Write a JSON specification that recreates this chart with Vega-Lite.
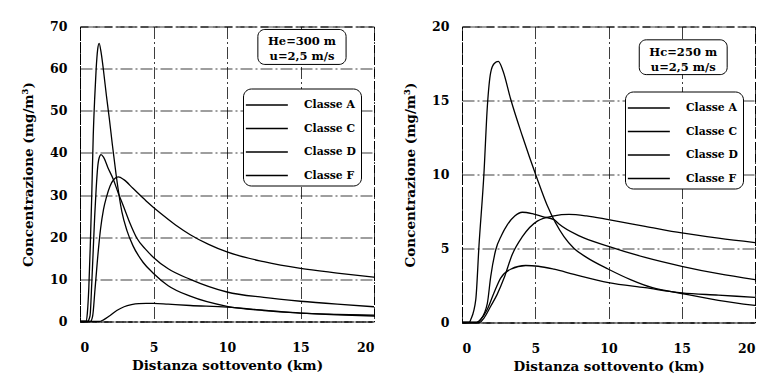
{
  "$schema": "https://vega.github.io/schema/vega-lite/v6.json",
  "background": "white",
  "padding": {"left": 21, "top": 19.5, "right": 5, "bottom": 5},
  "spacing": 25,
  "datasets": {
    "curves": [
      {"panel":"L","classe":"Classe A","x":0,"y":0},{"panel":"L","classe":"Classe A","x":0.4,"y":0},{"panel":"L","classe":"Classe A","x":0.5,"y":2},{"panel":"L","classe":"Classe A","x":0.6,"y":8},{"panel":"L","classe":"Classe A","x":0.7,"y":18},{"panel":"L","classe":"Classe A","x":0.8,"y":30},{"panel":"L","classe":"Classe A","x":0.9,"y":44},{"panel":"L","classe":"Classe A","x":1.0,"y":53},{"panel":"L","classe":"Classe A","x":1.1,"y":60},{"panel":"L","classe":"Classe A","x":1.2,"y":64.5},{"panel":"L","classe":"Classe A","x":1.3,"y":66},{"panel":"L","classe":"Classe A","x":1.45,"y":63.5},{"panel":"L","classe":"Classe A","x":1.6,"y":59.5},{"panel":"L","classe":"Classe A","x":1.8,"y":53.5},{"panel":"L","classe":"Classe A","x":2.0,"y":48},{"panel":"L","classe":"Classe A","x":2.2,"y":42},{"panel":"L","classe":"Classe A","x":2.45,"y":35},{"panel":"L","classe":"Classe A","x":2.85,"y":26},{"panel":"L","classe":"Classe A","x":3.2,"y":21.5},{"panel":"L","classe":"Classe A","x":3.6,"y":18},{"panel":"L","classe":"Classe A","x":4.3,"y":14},{"panel":"L","classe":"Classe A","x":5,"y":11.4},{"panel":"L","classe":"Classe A","x":6,"y":8.5},{"panel":"L","classe":"Classe A","x":7.5,"y":6},{"panel":"L","classe":"Classe A","x":10,"y":3.6},{"panel":"L","classe":"Classe A","x":12.5,"y":2.6},{"panel":"L","classe":"Classe A","x":15,"y":2.0},{"panel":"L","classe":"Classe A","x":17.5,"y":1.6},{"panel":"L","classe":"Classe A","x":20,"y":1.3},
      {"panel":"L","classe":"Classe C","x":0,"y":0},{"panel":"L","classe":"Classe C","x":0.5,"y":0},{"panel":"L","classe":"Classe C","x":0.68,"y":1.3},{"panel":"L","classe":"Classe C","x":0.8,"y":9},{"panel":"L","classe":"Classe C","x":0.9,"y":17},{"panel":"L","classe":"Classe C","x":1.0,"y":25},{"panel":"L","classe":"Classe C","x":1.1,"y":31.5},{"panel":"L","classe":"Classe C","x":1.2,"y":36.5},{"panel":"L","classe":"Classe C","x":1.3,"y":38.8},{"panel":"L","classe":"Classe C","x":1.43,"y":39.6},{"panel":"L","classe":"Classe C","x":1.6,"y":39},{"panel":"L","classe":"Classe C","x":1.9,"y":36.5},{"panel":"L","classe":"Classe C","x":2.27,"y":33.7},{"panel":"L","classe":"Classe C","x":2.6,"y":30.5},{"panel":"L","classe":"Classe C","x":2.95,"y":27.4},{"panel":"L","classe":"Classe C","x":3.4,"y":23.3},{"panel":"L","classe":"Classe C","x":3.86,"y":19.8},{"panel":"L","classe":"Classe C","x":4.5,"y":17},{"panel":"L","classe":"Classe C","x":5,"y":15.2},{"panel":"L","classe":"Classe C","x":6,"y":12.5},{"panel":"L","classe":"Classe C","x":7.5,"y":10},{"panel":"L","classe":"Classe C","x":10,"y":7},{"panel":"L","classe":"Classe C","x":12.5,"y":5.7},{"panel":"L","classe":"Classe C","x":15,"y":4.8},{"panel":"L","classe":"Classe C","x":17.5,"y":4.1},{"panel":"L","classe":"Classe C","x":20,"y":3.5},
      {"panel":"L","classe":"Classe D","x":0,"y":0},{"panel":"L","classe":"Classe D","x":0.7,"y":0},{"panel":"L","classe":"Classe D","x":0.86,"y":1.3},{"panel":"L","classe":"Classe D","x":1.02,"y":7.6},{"panel":"L","classe":"Classe D","x":1.25,"y":17},{"panel":"L","classe":"Classe D","x":1.4,"y":22},{"panel":"L","classe":"Classe D","x":1.6,"y":26.6},{"panel":"L","classe":"Classe D","x":1.8,"y":29.5},{"panel":"L","classe":"Classe D","x":2.04,"y":32.1},{"panel":"L","classe":"Classe D","x":2.3,"y":33.7},{"panel":"L","classe":"Classe D","x":2.6,"y":34.3},{"panel":"L","classe":"Classe D","x":3,"y":33.6},{"panel":"L","classe":"Classe D","x":3.6,"y":31.6},{"panel":"L","classe":"Classe D","x":4.5,"y":28.6},{"panel":"L","classe":"Classe D","x":5.5,"y":25.6},{"panel":"L","classe":"Classe D","x":6.5,"y":22.9},{"panel":"L","classe":"Classe D","x":7.5,"y":20.6},{"panel":"L","classe":"Classe D","x":8.75,"y":18.3},{"panel":"L","classe":"Classe D","x":10,"y":16.5},{"panel":"L","classe":"Classe D","x":12.5,"y":14.2},{"panel":"L","classe":"Classe D","x":15,"y":12.6},{"panel":"L","classe":"Classe D","x":17.5,"y":11.5},{"panel":"L","classe":"Classe D","x":20,"y":10.5},
      {"panel":"L","classe":"Classe F","x":0,"y":0},{"panel":"L","classe":"Classe F","x":1.3,"y":0},{"panel":"L","classe":"Classe F","x":1.6,"y":0.4},{"panel":"L","classe":"Classe F","x":2,"y":1.3},{"panel":"L","classe":"Classe F","x":2.5,"y":2.6},{"panel":"L","classe":"Classe F","x":3,"y":3.5},{"panel":"L","classe":"Classe F","x":3.5,"y":4.0},{"panel":"L","classe":"Classe F","x":4,"y":4.25},{"panel":"L","classe":"Classe F","x":4.5,"y":4.3},{"panel":"L","classe":"Classe F","x":5,"y":4.3},{"panel":"L","classe":"Classe F","x":6,"y":4.1},{"panel":"L","classe":"Classe F","x":7.5,"y":3.8},{"panel":"L","classe":"Classe F","x":10,"y":3.4},{"panel":"L","classe":"Classe F","x":12.5,"y":2.7},{"panel":"L","classe":"Classe F","x":15,"y":2.0},{"panel":"L","classe":"Classe F","x":17.5,"y":1.7},{"panel":"L","classe":"Classe F","x":20,"y":1.5},
      {"panel":"R","classe":"Classe A","x":0,"y":0},{"panel":"R","classe":"Classe A","x":0.5,"y":0},{"panel":"R","classe":"Classe A","x":0.6,"y":0.2},{"panel":"R","classe":"Classe A","x":0.94,"y":1.55},{"panel":"R","classe":"Classe A","x":1.16,"y":5.2},{"panel":"R","classe":"Classe A","x":1.5,"y":10.1},{"panel":"R","classe":"Classe A","x":1.73,"y":14.6},{"panel":"R","classe":"Classe A","x":1.96,"y":16.9},{"panel":"R","classe":"Classe A","x":2.2,"y":17.5},{"panel":"R","classe":"Classe A","x":2.48,"y":17.65},{"panel":"R","classe":"Classe A","x":2.8,"y":17},{"panel":"R","classe":"Classe A","x":3.32,"y":15.1},{"panel":"R","classe":"Classe A","x":4.12,"y":12.6},{"panel":"R","classe":"Classe A","x":5.1,"y":9.8},{"panel":"R","classe":"Classe A","x":5.82,"y":7.9},{"panel":"R","classe":"Classe A","x":6.96,"y":5.8},{"panel":"R","classe":"Classe A","x":7.65,"y":5.0},{"panel":"R","classe":"Classe A","x":8.5,"y":4.4},{"panel":"R","classe":"Classe A","x":10,"y":3.6},{"panel":"R","classe":"Classe A","x":11.5,"y":2.9},{"panel":"R","classe":"Classe A","x":13,"y":2.35},{"panel":"R","classe":"Classe A","x":15,"y":1.96},{"panel":"R","classe":"Classe A","x":17.5,"y":1.5},{"panel":"R","classe":"Classe A","x":20,"y":1.15},
      {"panel":"R","classe":"Classe C","x":0,"y":0},{"panel":"R","classe":"Classe C","x":1.0,"y":0},{"panel":"R","classe":"Classe C","x":1.27,"y":0.2},{"panel":"R","classe":"Classe C","x":1.73,"y":1.3},{"panel":"R","classe":"Classe C","x":1.96,"y":3.1},{"panel":"R","classe":"Classe C","x":2.3,"y":4.9},{"panel":"R","classe":"Classe C","x":2.7,"y":5.9},{"panel":"R","classe":"Classe C","x":3.09,"y":6.6},{"panel":"R","classe":"Classe C","x":3.6,"y":7.2},{"panel":"R","classe":"Classe C","x":4.12,"y":7.45},{"panel":"R","classe":"Classe C","x":4.8,"y":7.35},{"panel":"R","classe":"Classe C","x":5.5,"y":7.15},{"panel":"R","classe":"Classe C","x":6.28,"y":6.95},{"panel":"R","classe":"Classe C","x":6.62,"y":6.65},{"panel":"R","classe":"Classe C","x":8,"y":5.85},{"panel":"R","classe":"Classe C","x":10,"y":5.15},{"panel":"R","classe":"Classe C","x":12.5,"y":4.4},{"panel":"R","classe":"Classe C","x":15,"y":3.8},{"panel":"R","classe":"Classe C","x":17.5,"y":3.3},{"panel":"R","classe":"Classe C","x":20,"y":2.9},
      {"panel":"R","classe":"Classe D","x":0,"y":0},{"panel":"R","classe":"Classe D","x":1.2,"y":0},{"panel":"R","classe":"Classe D","x":1.5,"y":0.3},{"panel":"R","classe":"Classe D","x":1.96,"y":1.1},{"panel":"R","classe":"Classe D","x":2.4,"y":1.9},{"panel":"R","classe":"Classe D","x":2.87,"y":3.0},{"panel":"R","classe":"Classe D","x":3.43,"y":4.6},{"panel":"R","classe":"Classe D","x":4.12,"y":5.8},{"panel":"R","classe":"Classe D","x":5.14,"y":6.85},{"panel":"R","classe":"Classe D","x":6.28,"y":7.2},{"panel":"R","classe":"Classe D","x":7.3,"y":7.3},{"panel":"R","classe":"Classe D","x":8.5,"y":7.2},{"panel":"R","classe":"Classe D","x":10,"y":6.95},{"panel":"R","classe":"Classe D","x":12.5,"y":6.5},{"panel":"R","classe":"Classe D","x":15,"y":6.05},{"panel":"R","classe":"Classe D","x":17.5,"y":5.7},{"panel":"R","classe":"Classe D","x":20,"y":5.4},
      {"panel":"R","classe":"Classe F","x":0,"y":0},{"panel":"R","classe":"Classe F","x":1.0,"y":0},{"panel":"R","classe":"Classe F","x":1.27,"y":0.2},{"panel":"R","classe":"Classe F","x":1.73,"y":0.9},{"panel":"R","classe":"Classe F","x":2.18,"y":2.0},{"panel":"R","classe":"Classe F","x":2.64,"y":3.0},{"panel":"R","classe":"Classe F","x":3.32,"y":3.6},{"panel":"R","classe":"Classe F","x":4.35,"y":3.85},{"panel":"R","classe":"Classe F","x":5.2,"y":3.8},{"panel":"R","classe":"Classe F","x":6.28,"y":3.6},{"panel":"R","classe":"Classe F","x":7.65,"y":3.25},{"panel":"R","classe":"Classe F","x":10,"y":2.7},{"panel":"R","classe":"Classe F","x":12.5,"y":2.35},{"panel":"R","classe":"Classe F","x":15,"y":2.0},{"panel":"R","classe":"Classe F","x":17.5,"y":1.85},{"panel":"R","classe":"Classe F","x":20,"y":1.7}
    ]
  },
  "hconcat": [
    {
      "width": 294,
      "height": 295,
      "layer": [
        {
          "data": {"name": "curves"},
          "transform": [{"filter": "datum.panel === 'L'"}],
          "mark": {"type": "line", "interpolate": "monotone", "strokeWidth": 1.3},
          "encoding": {
            "x": {"field": "x", "type": "quantitative", "scale": {"domain": [0, 20], "nice": false}, "axis": {"values": [0, 5, 10, 15, 20], "title": "Distanza sottovento (km)"}},
            "y": {"field": "y", "type": "quantitative", "scale": {"domain": [0, 70], "nice": false}, "axis": {"values": [0, 10, 20, 30, 40, 50, 60, 70], "title": "Concentrazione (mg/m³)"}},
            "color": {"field": "classe", "type": "nominal", "scale": {"range": ["black", "black", "black", "black"]},
              "legend": {"orient": "none", "legendX": 163, "legendY": 62, "title": null}}
          }
        },
        {
          "data": {"values": [{}]},
          "mark": {"type": "rect", "fill": "white", "stroke": "black", "strokeWidth": 1, "cornerRadius": 7},
          "encoding": {
            "x": {"datum": 12.1}, "x2": {"datum": 18.1},
            "y": {"datum": 69.3}, "y2": {"datum": 61}
          }
        },
        {
          "data": {"values": [{}]},
          "mark": {"type": "text", "font": "DejaVu Serif", "fontWeight": "bold", "fontSize": 11.5, "align": "center", "baseline": "middle", "lineHeight": 15},
          "encoding": {
            "x": {"datum": 15.1}, "y": {"datum": 66.4},
            "text": {"value": ["He=300 m", "u=2,5 m/s"]}
          }
        }
      ]
    },
    {
      "width": 293,
      "height": 296,
      "layer": [
        {
          "data": {"name": "curves"},
          "transform": [{"filter": "datum.panel === 'R'"}],
          "mark": {"type": "line", "interpolate": "monotone", "strokeWidth": 1.3},
          "encoding": {
            "x": {"field": "x", "type": "quantitative", "scale": {"domain": [0, 20], "nice": false}, "axis": {"values": [0, 5, 10, 15, 20], "title": "Distanza sottovento (km)"}},
            "y": {"field": "y", "type": "quantitative", "scale": {"domain": [0, 20], "nice": false}, "axis": {"values": [0, 5, 10, 15, 20], "title": "Concentrazione (mg/m³)"}},
            "color": {"field": "classe", "type": "nominal", "scale": {"range": ["black", "black", "black", "black"]},
              "legend": {"orient": "none", "legendX": 163, "legendY": 65, "title": null}}
          }
        },
        {
          "data": {"values": [{}]},
          "mark": {"type": "rect", "fill": "white", "stroke": "black", "strokeWidth": 1, "cornerRadius": 7},
          "encoding": {
            "x": {"datum": 12.1}, "x2": {"datum": 18.1},
            "y": {"datum": 19.1}, "y2": {"datum": 16.75}
          }
        },
        {
          "data": {"values": [{}]},
          "mark": {"type": "text", "font": "DejaVu Serif", "fontWeight": "bold", "fontSize": 11.5, "align": "center", "baseline": "middle", "lineHeight": 15},
          "encoding": {
            "x": {"datum": 15.1}, "y": {"datum": 18.2},
            "text": {"value": ["Hc=250 m", "u=2,5 m/s"]}
          }
        }
      ],
      "resolve": {"scale": {"color": "independent"}}
    }
  ],
  "resolve": {"scale": {"color": "independent"}, "legend": {"color": "independent"}},
  "config": {
    "font": "DejaVu Serif",
    "view": {"stroke": "black", "strokeDash": [8, 4], "strokeWidth": 1},
    "axis": {
      "labelFont": "DejaVu Serif", "labelFontWeight": "bold", "labelFontSize": 12.5, "labelColor": "black",
      "titleFont": "DejaVu Serif", "titleFontWeight": "bold", "titleFontSize": 13.5, "titleColor": "black",
      "grid": true, "gridColor": "black", "gridDash": [12, 3, 2, 3], "gridOpacity": 0.85, "gridWidth": 0.9,
      "domainColor": "black", "domainDash": [4, 2], "ticks": false
    },
    "axisY": {"titlePadding": 14, "labelPadding": 13},
    "axisX": {"titlePadding": 4, "labelPadding": 20},
    "legend": {
      "symbolType": "M-1.3,0L2.7,0", "symbolSize": 441, "symbolStrokeWidth": 1.3,
      "labelFont": "DejaVu Serif", "labelFontWeight": "bold", "labelFontSize": 10.8, "labelColor": "black",
      "strokeColor": "black", "fillColor": "white", "cornerRadius": 8, "padding": 5,
      "labelOffset": 33, "rowPadding": 6.5
    }
  }
}
